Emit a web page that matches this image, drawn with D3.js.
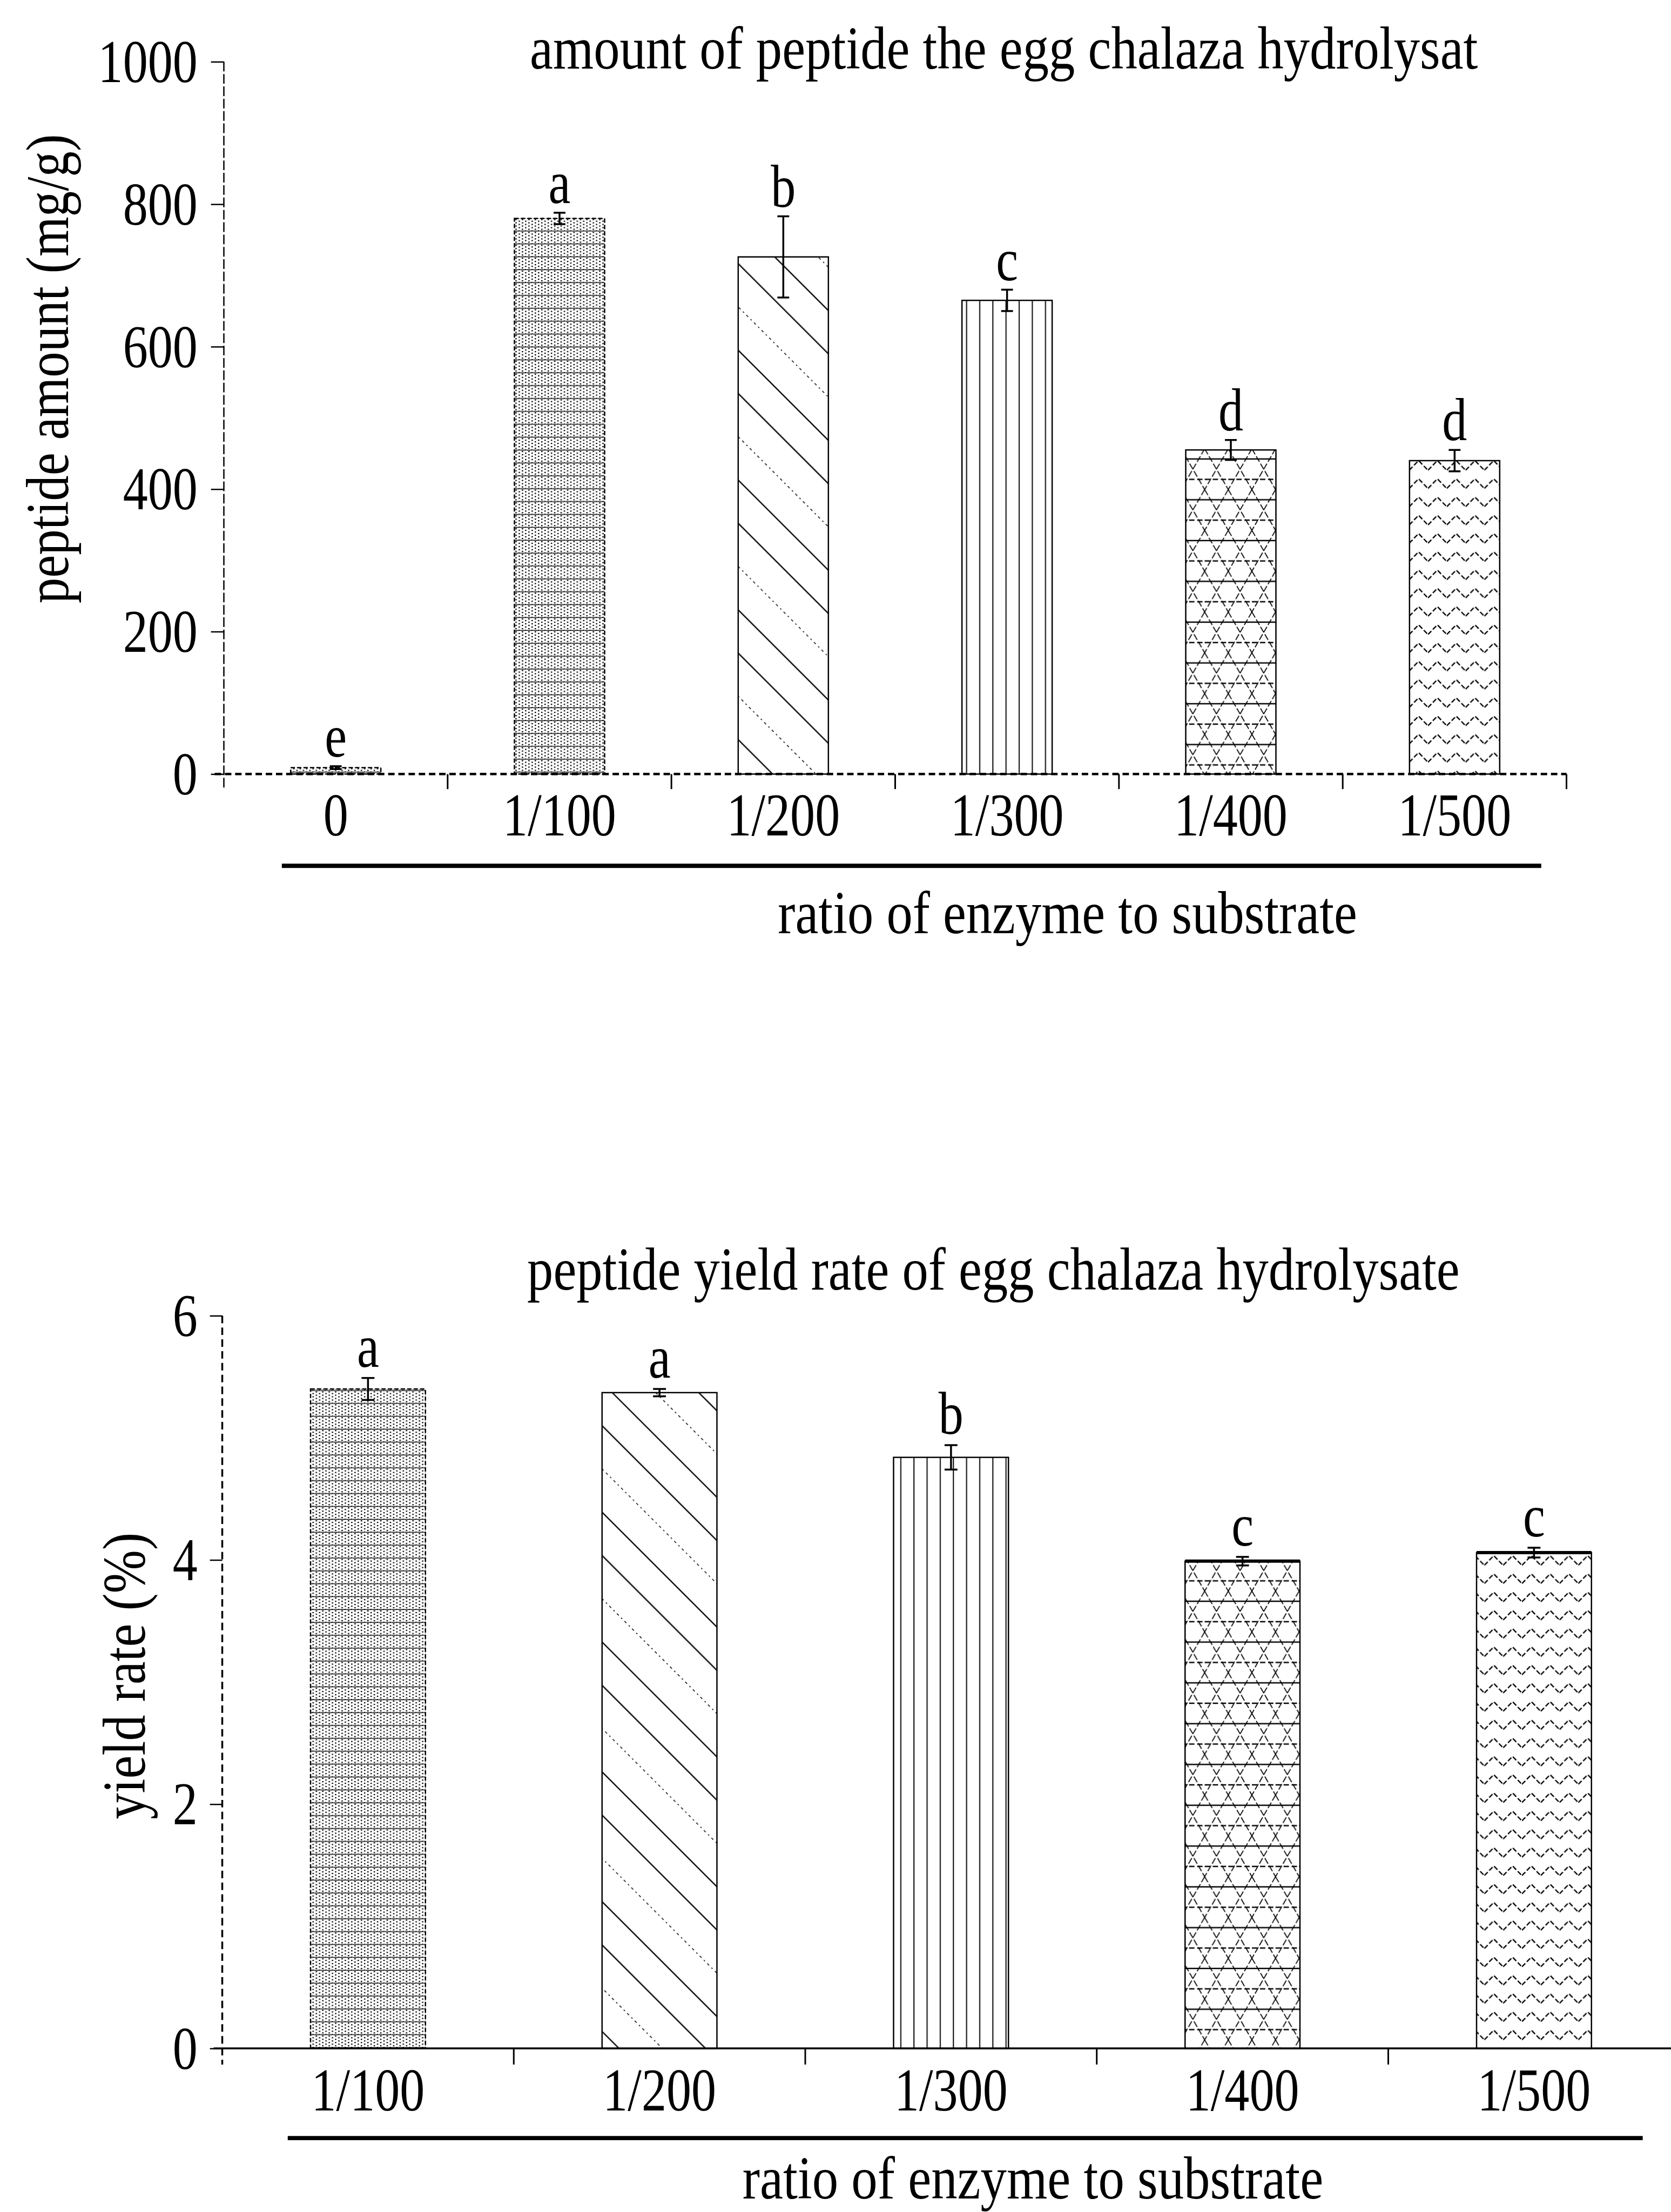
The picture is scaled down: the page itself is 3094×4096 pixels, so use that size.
<!DOCTYPE html>
<html>
<head>
<meta charset="utf-8">
<script src="https://cdn.jsdelivr.net/npm/d3@7"></script>
<style>
  body { margin: 0; background: #fff; }
  text { font-family: "Liberation Serif", "Times New Roman", serif; fill: #000; }
</style>
</head>
<body>
<svg id="chart" width="3094" height="4096"></svg>
<script>
// Top panel: peptide amount (mg/g)
const ratios1 = ['0', '1/100', '1/200', '1/300', '1/400', '1/500'];
const peptideAmount = [9, 780, 726, 665, 455, 440];
const peptideErr = [2, 8, 57, 15, 14, 15];
const peptideLetters = ['e', 'a', 'b', 'c', 'd', 'd'];
const amountTicks = [0, 200, 400, 600, 800, 1000];

// Bottom panel: peptide yield rate (%)
const ratios2 = ['1/100', '1/200', '1/300', '1/400', '1/500'];
const yieldRate = [5.40, 5.37, 4.84, 3.99, 4.06];
const yieldErr = [0.09, 0.03, 0.10, 0.035, 0.04];
const yieldLetters = ['a', 'a', 'b', 'c', 'c'];
const yieldTicks = [0, 2, 4, 6];

// each ratio keeps the same fill in both panels
const patternOf = { '0': 'stipple', '1/100': 'stipple', '1/200': 'hatch', '1/300': 'vlines', '1/400': 'diamond', '1/500': 'zigzag' };

const FS = 113;     // font size of all text
const SX = 0.82;    // the original font is a narrow serif, squeeze Liberation Serif to match

const svg = d3.select("#chart");
const defs = svg.append("defs");

// ---- fill patterns ----
function pattern(id, w, h, transform) {
    const p = defs.append("pattern").attr("id", id)
        .attr("patternUnits", "userSpaceOnUse")
        .attr("width", w).attr("height", h);
    if (transform) p.attr("patternTransform", transform);
    p.append("rect").attr("width", w).attr("height", h).attr("fill", "#fff");
    return p;
}

// dense stipple (1/100)
let pt = pattern("stipple", 12, 24);
for (let i = 0; i < 8; i++) {
    pt.append("rect").attr("x", i % 2 ? 6 : 0).attr("y", i * 3)
        .attr("width", 2.6).attr("height", 2.2).attr("fill", "#000");
}
pt.append("line").attr("x1", 0).attr("x2", 12).attr("y1", 22.5).attr("y2", 22.5)
    .attr("stroke", "#000").attr("stroke-width", 1.6).attr("stroke-dasharray", "6,3");

// diagonal hatch (1/200)
pt = pattern("hatch", 20, 171, "rotate(45)");
[[2, null], [59, null], [116, "3,6"]].forEach(([yy, dash]) => {
    const l = pt.append("line").attr("x1", 0).attr("x2", 20).attr("y1", yy).attr("y2", yy)
        .attr("stroke", "#000").attr("stroke-width", dash ? 1.6 : 2.4);
    if (dash) l.attr("stroke-dasharray", dash);
});

// vertical lines (1/300)
pt = pattern("vlines", 24.5, 20);
pt.append("line").attr("x1", 12).attr("x2", 12).attr("y1", 0).attr("y2", 20)
    .attr("stroke", "#000").attr("stroke-width", 2);

// diamond lattice with horizontal rules (1/400)
pt = pattern("diamond", 44, 76);
pt.append("path").attr("d", "M0,0L44,76M44,0L0,76").attr("fill", "none")
    .attr("stroke", "#000").attr("stroke-width", 1.8).attr("stroke-dasharray", "12,4");
pt.append("line").attr("x1", 0).attr("x2", 44).attr("y1", 19).attr("y2", 19)
    .attr("stroke", "#000").attr("stroke-width", 2.5);
pt.append("line").attr("x1", 0).attr("x2", 44).attr("y1", 57).attr("y2", 57)
    .attr("stroke", "#000").attr("stroke-width", 2.5).attr("stroke-dasharray", "10,5");

// zigzag rows (1/500)
pt = pattern("zigzag", 35, 34);
pt.append("path").attr("d", "M0,26L17.5,8L35,26").attr("fill", "none")
    .attr("stroke", "#000").attr("stroke-width", 2.4).attr("stroke-dasharray", "9,4");

// everything is laid out in reference pixels, then shrunk to the window
const root = svg.append("g").attr("transform", "scale(0.994)");

function panel(o) {
    const x = d3.scaleBand().domain(o.cats).range(o.xRange);
    const y = d3.scaleLinear().domain(o.yDomain).range(o.yRange);
    const g = root.append("g");
    const y0 = y(0);

    // title
    g.append("text").attr("x", o.title[0]).attr("y", o.title[1])
        .attr("font-size", FS).attr("textLength", o.title[2])
        .attr("lengthAdjust", "spacingAndGlyphs").text(o.titleText);

    // y axis title (rotated)
    g.append("text")
        .attr("transform", `translate(${o.yTitle[0]},${o.yTitle[1]}) rotate(-90)`)
        .attr("font-size", FS).attr("textLength", o.yTitle[2])
        .attr("lengthAdjust", "spacingAndGlyphs").text(o.yTitleText);

    // x axis title + heavy rule above it
    g.append("line").attr("x1", o.rule[0]).attr("x2", o.rule[1])
        .attr("y1", o.rule[2]).attr("y2", o.rule[2])
        .attr("stroke", "#000").attr("stroke-width", 8);
    g.append("text").attr("x", o.xTitle[0]).attr("y", o.xTitle[1])
        .attr("font-size", FS).attr("textLength", o.xTitle[2])
        .attr("lengthAdjust", "spacingAndGlyphs").text("ratio of enzyme to substrate");

    // bars
    const bars = g.append("g");
    o.cats.forEach((c, i) => {
        const bx = x(c) + (x.bandwidth() - o.barW) / 2;
        const top = y(o.values[i]);
        bars.append("rect").attr("x", bx).attr("y", top).attr("width", o.barW)
            .attr("height", y0 - top).attr("fill", `url(#${patternOf[c]})`);
        const outline = bars.append("rect").attr("x", bx).attr("y", top).attr("width", o.barW)
            .attr("height", y0 - top).attr("fill", "none")
            .attr("stroke", "#000").attr("stroke-width", 2.5);
        if (o.dashedBars.includes(c)) outline.attr("stroke-dasharray", "8,4");
        if (o.thickTop.includes(c)) {
            bars.append("line").attr("x1", bx).attr("x2", bx + o.barW)
                .attr("y1", top).attr("y2", top).attr("stroke", "#000").attr("stroke-width", 6);
        }

        // error bar
        const cx = x(c) + x.bandwidth() / 2;
        const hi = y(o.values[i] + o.err[i]), lo = y(o.values[i] - o.err[i]);
        const eb = bars.append("g").attr("stroke", "#000").attr("stroke-width", 3.5);
        eb.append("line").attr("x1", cx).attr("x2", cx).attr("y1", hi).attr("y2", lo);
        eb.append("line").attr("x1", cx - o.capW / 2).attr("x2", cx + o.capW / 2).attr("y1", hi).attr("y2", hi);
        eb.append("line").attr("x1", cx - o.capW / 2).attr("x2", cx + o.capW / 2).attr("y1", lo).attr("y2", lo);

        // significance letter
        bars.append("text")
            .attr("transform", `translate(${cx},${hi - o.letterGap}) scale(${SX},1)`)
            .attr("text-anchor", "middle").attr("font-size", FS).text(o.letters[i]);
    });

    // base line
    const base = g.append("line").attr("x1", o.baseLine[0]).attr("x2", o.baseLine[1])
        .attr("y1", y0).attr("y2", y0).attr("stroke", "#000").attr("stroke-width", o.baseLine[2]);
    if (o.baseDash) base.attr("stroke-dasharray", o.baseDash);

    // y axis: ticks and labels from d3, the line drawn by hand so it can run below zero
    const yAxis = g.append("g").attr("transform", `translate(${o.xRange[0]},0)`)
        .call(d3.axisLeft(y).tickValues(o.ticks).tickFormat(d3.format("d"))
            .tickSize(o.tickLen).tickSizeOuter(0));
    yAxis.select(".domain").remove();
    yAxis.selectAll(".tick line").attr("stroke-width", 2.5);
    yAxis.selectAll(".tick text").attr("font-size", FS).attr("dy", "0.33em")
        .attr("x", -o.labelGap / SX).attr("transform", `scale(${SX},1)`);
    g.append("line").attr("x1", o.xRange[0]).attr("x2", o.xRange[0])
        .attr("y1", y(o.yDomain[1])).attr("y2", y0 + o.xTickLen)
        .attr("stroke", "#000").attr("stroke-width", o.yAxisLine[0])
        .attr("stroke-dasharray", o.yAxisLine[1]);

    // x axis labels at band centres
    const xAxis = g.append("g").attr("transform", `translate(0,${y0})`)
        .call(d3.axisBottom(x).tickSize(0));
    xAxis.select(".domain").remove();
    xAxis.selectAll(".tick text").attr("font-size", FS).attr("y", o.xLabelDy).attr("dy", 0)
        .attr("transform", `scale(${SX},1)`);

    // x ticks sit on the band boundaries
    g.append("g").selectAll("line").data(o.cats).join("line")
        .attr("x1", d => x(d) + x.bandwidth()).attr("x2", d => x(d) + x.bandwidth())
        .attr("y1", y0).attr("y2", y0 + o.xTickLen)
        .attr("stroke", "#000").attr("stroke-width", 3);
}

panel({
    cats: ratios1, values: peptideAmount, err: peptideErr, letters: peptideLetters, ticks: amountTicks,
    xRange: [417, 2918], yDomain: [0, 1000], yRange: [1442, 115],
    titleText: "amount of peptide the egg chalaza hydrolysat", title: [987, 128, 1766],
    yTitleText: "peptide amount (mg/g)", yTitle: [127, 1124, 874],
    xTitle: [1449, 1738, 1079], rule: [525, 2871, 1613],
    barW: 168, capW: 22, letterGap: 18, tickLen: 24, labelGap: 49,
    xTickLen: 28, xLabelDy: 114,
    baseLine: [400, 2918, 4.5], baseDash: "12,7", yAxisLine: [2.5, "18,5"],
    dashedBars: ['0', '1/100'], thickTop: []
});

panel({
    cats: ratios2, values: yieldRate, err: yieldErr, letters: yieldLetters, ticks: yieldTicks,
    xRange: [414, 3129], yDomain: [0, 6], yRange: [3816, 2451],
    titleText: "peptide yield rate of egg chalaza hydrolysate", title: [982, 2402, 1737],
    yTitleText: "yield rate (%)", yTitle: [270, 3389, 534],
    xTitle: [1383, 4096, 1082], rule: [536, 3060, 3983],
    barW: 214, capW: 24, letterGap: 21, tickLen: 23, labelGap: 46,
    xTickLen: 30, xLabelDy: 116,
    baseLine: [398, 3129, 3.5], baseDash: null, yAxisLine: [3.5, "14,8"],
    dashedBars: ['1/100'], thickTop: ['1/400', '1/500']
});
</script>
</body>
</html>
